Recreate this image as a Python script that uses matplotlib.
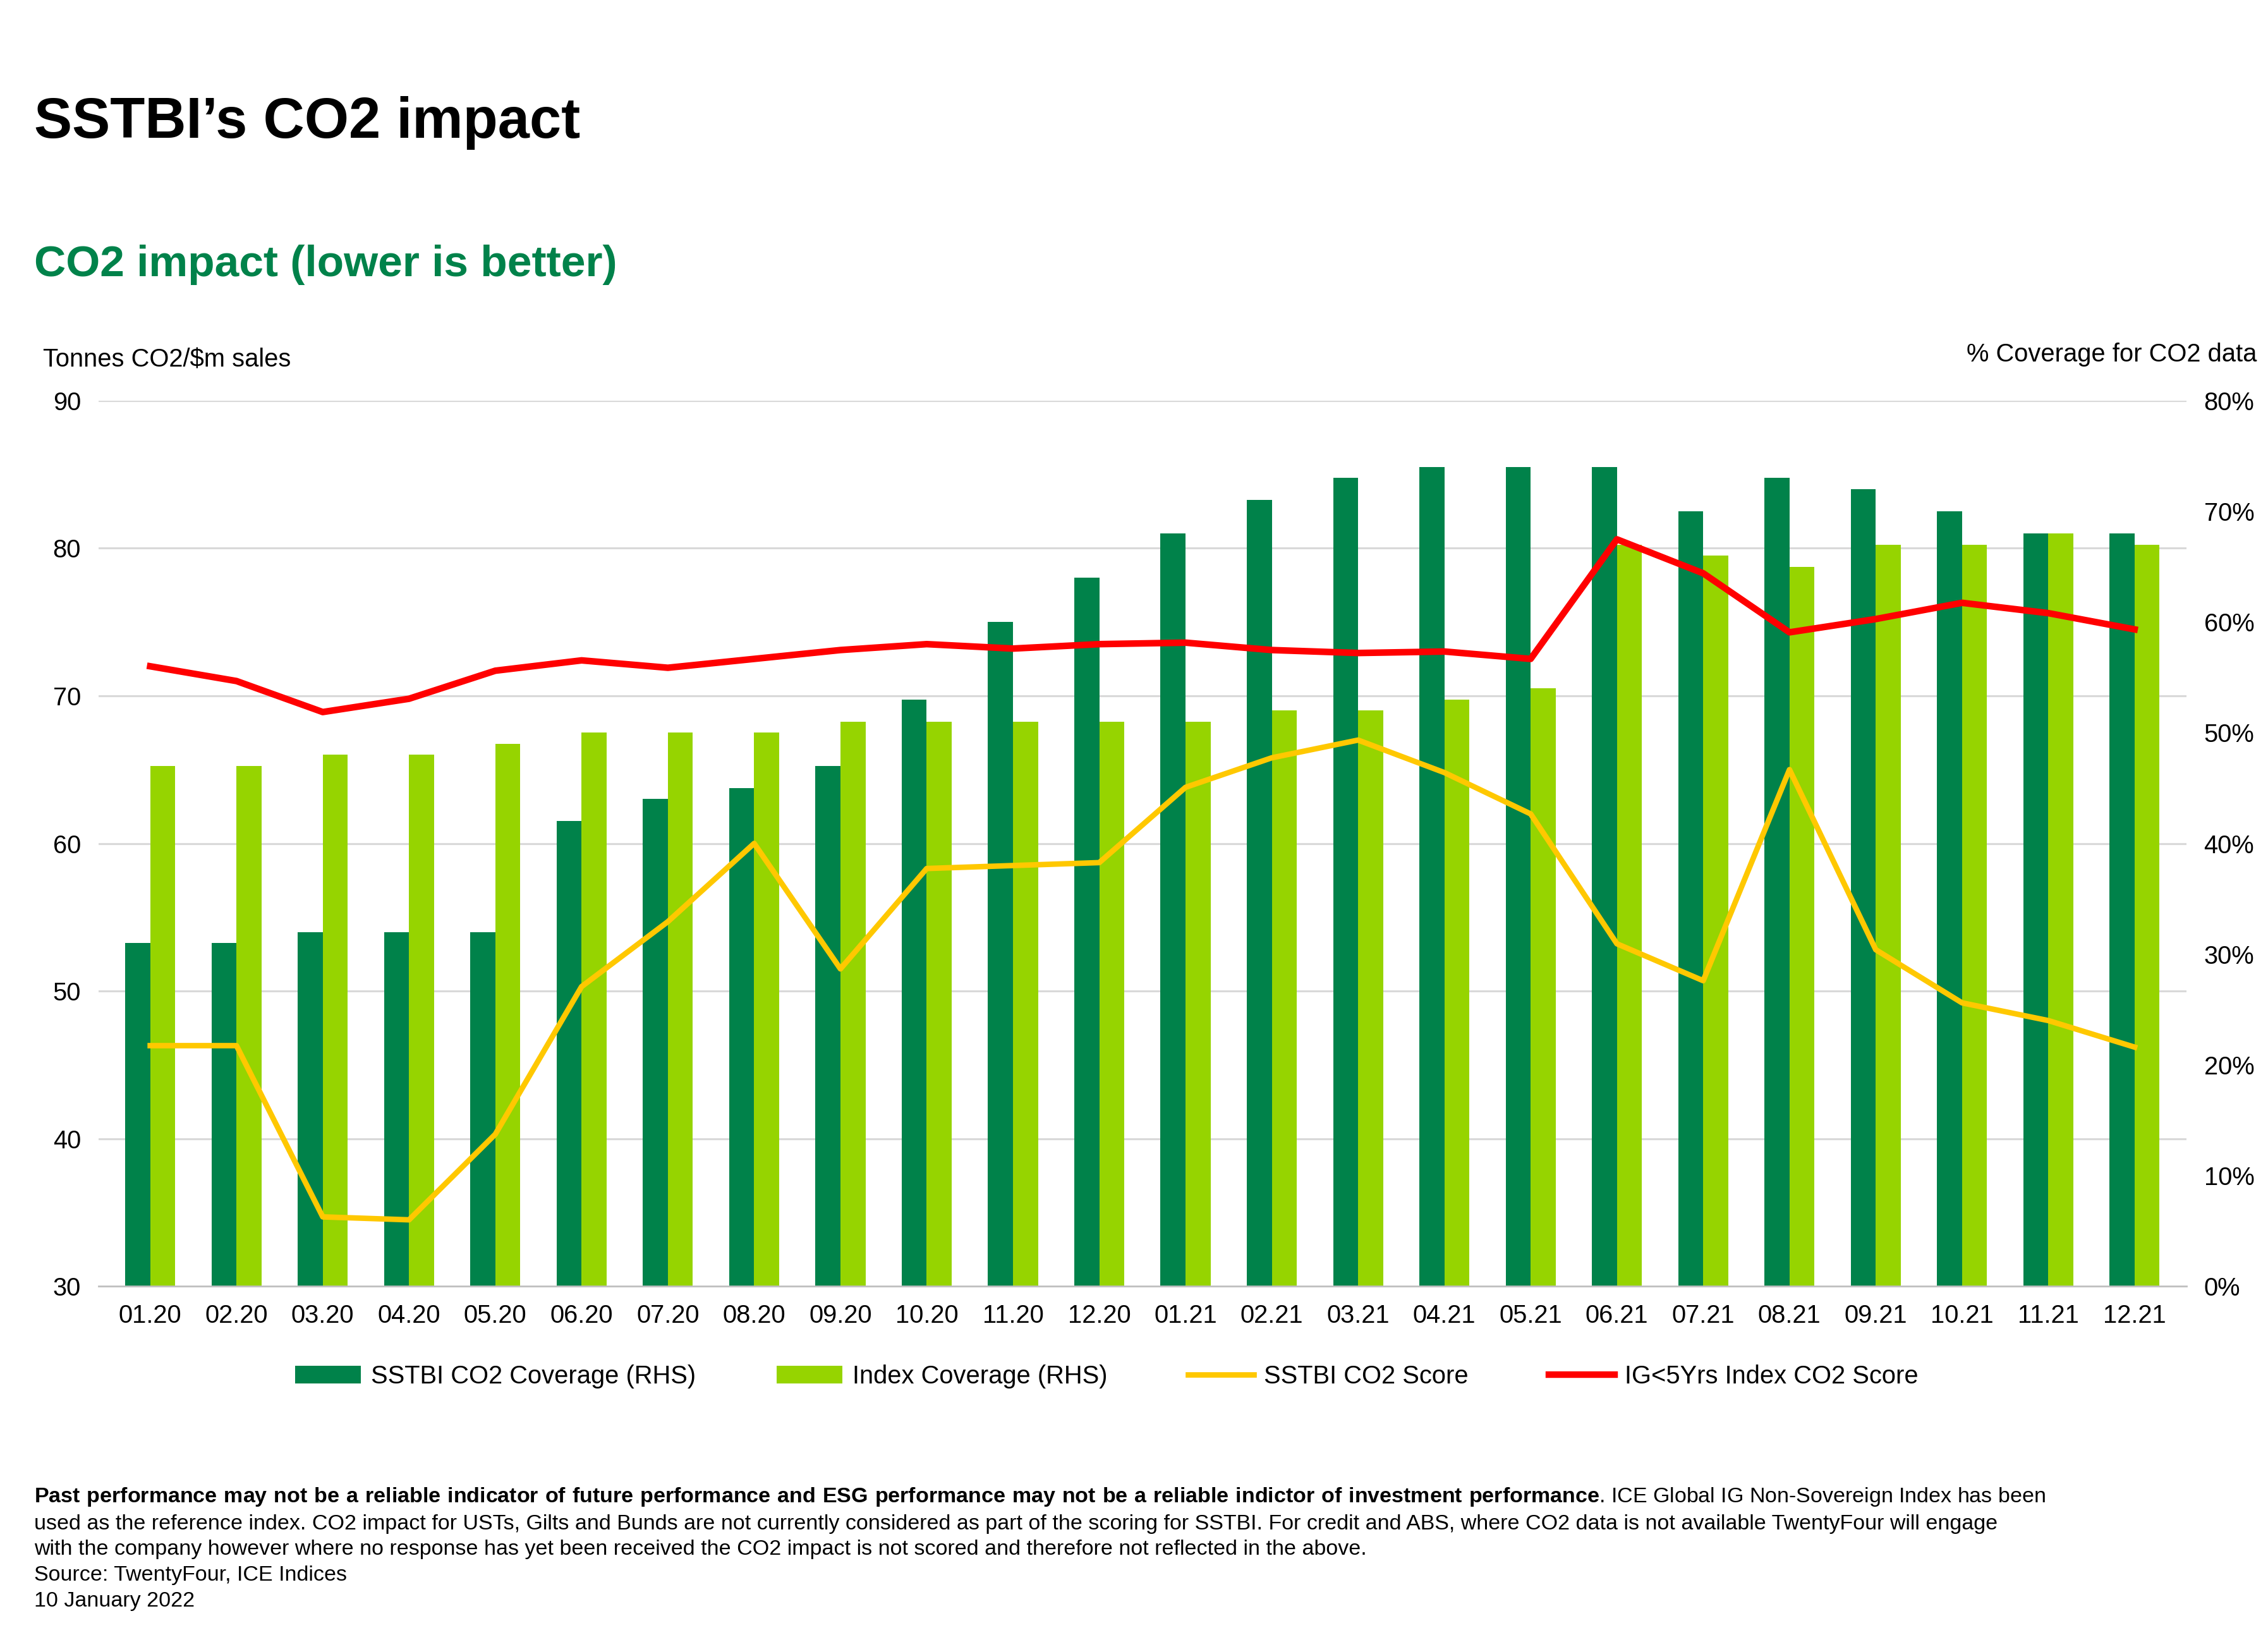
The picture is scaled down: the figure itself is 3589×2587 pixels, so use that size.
import matplotlib.pyplot as plt
import numpy as np

plt.rcParams["font.family"] = "Liberation Sans"
plt.rcParams["mathtext.fontset"] = "custom"
plt.rcParams["mathtext.rm"] = "Liberation Sans"
plt.rcParams["mathtext.bf"] = "Liberation Sans:bold"

# ---- data ----
months = ["01.20", "02.20", "03.20", "04.20", "05.20", "06.20", "07.20", "08.20",
          "09.20", "10.20", "11.20", "12.20", "01.21", "02.21", "03.21", "04.21",
          "05.21", "06.21", "07.21", "08.21", "09.21", "10.21", "11.21", "12.21"]
sstbi_coverage = [31, 31, 32, 32, 32, 42, 44, 45, 47, 53, 60, 64,
                  68, 71, 73, 74, 74, 74, 70, 73, 72, 70, 68, 68]
index_coverage = [47, 47, 48, 48, 49, 50, 50, 50, 51, 51, 51, 51,
                  51, 52, 52, 53, 54, 67, 66, 65, 67, 67, 68, 67]
sstbi_score = [46.3, 46.3, 34.7, 34.5, 40.3, 50.3, 54.7, 60.0, 51.5, 58.3, 58.5, 58.7,
               63.8, 65.8, 67.0, 64.8, 62.0, 53.2, 50.7, 65.0, 52.8, 49.2, 48.0, 46.2]
index_score = [72.0, 71.0, 68.9, 69.8, 71.7, 72.4, 71.9, 72.5, 73.1, 73.5, 73.2, 73.5,
               73.6, 73.1, 72.9, 73.0, 72.5, 80.6, 78.3, 74.3, 75.2, 76.3, 75.6, 74.5]

DARK = "#00824A"
LIGHT = "#96D400"
YELLOW = "#FFC800"
RED = "#FF0000"

fig = plt.figure(figsize=(14.356, 10.348), dpi=250)
ax = fig.add_axes([0.0434, 0.2133, 0.9206, 0.5417])
ax2 = ax.twinx()

x = np.arange(len(months))
w = 0.29
# gridlines matching left ticks
for v in range(40, 91, 10):
    ax2.axhline((v - 30) / 60 * 80, color="#D9D9D9", lw=0.9, zorder=0)
b1 = ax2.bar(x - w / 2, sstbi_coverage, w, color=DARK, zorder=2, label="SSTBI CO2 Coverage (RHS)")
b2 = ax2.bar(x + w / 2, index_coverage, w, color=LIGHT, zorder=2, label="Index Coverage (RHS)")
ax2.set_ylim(0, 80)
ax2.set_yticks(range(0, 81, 10))
ax2.set_yticklabels([f"{v}%" for v in range(0, 81, 10)])

l1, = ax.plot(x, sstbi_score, color=YELLOW, lw=2.5, label="SSTBI CO2 Score")
l2, = ax.plot(x, index_score, color=RED, lw=3, label="IG<5Yrs Index CO2 Score")
ax.set_ylim(30, 90)
ax.set_yticks(range(30, 91, 10))
ax.set_xlim(-0.6, len(months) - 0.4)
ax.set_xticks(x)
ax.set_xticklabels(months)
ax.set_zorder(ax2.get_zorder() + 1)
ax.patch.set_visible(False)

for a in (ax, ax2):
    for s in ("top", "left", "right"):
        a.spines[s].set_visible(False)
    a.tick_params(length=0, labelsize=11.5, pad=8)
ax.spines["bottom"].set_color("#BFBFBF")
ax2.spines["bottom"].set_visible(False)

fig.legend([b1, b2, l1, l2], [h.get_label() for h in (b1, b2, l1, l2)],
           loc="center", bbox_to_anchor=(0.488, 0.158), ncol=4, frameon=False,
           fontsize=11.5, handlelength=2.6, handletextpad=0.4, columnspacing=3.2)

fig.text(0.015, 0.925, "SSTBI\u2019s CO2 impact", fontsize=26, weight="bold", va="center")
fig.text(0.015, 0.838, "CO2 impact (lower is better)", fontsize=20, weight="bold",
         color=DARK, va="center")
fig.text(0.019, 0.78, "Tonnes CO2/$m sales", fontsize=11.5, va="center")
fig.text(0.995, 0.783, "% Coverage for CO2 data", fontsize=11.5, va="center", ha="right")

bold = ("Past performance may not be a reliable indicator of future performance and ESG "
        "performance may not be a reliable indictor of investment performance")
bold_tex = "$\\bf{" + bold.replace(" ", "\\ ") + "}$"
foot = (bold_tex + ". ICE Global IG Non-Sovereign Index has been\n"
        "used as the reference index. CO2 impact for USTs, Gilts and Bunds are not currently considered as part of the scoring for SSTBI. For credit and ABS, where CO2 data is not available TwentyFour will engage\n"
        "with the company however where no response has yet been received the CO2 impact is not scored and therefore not reflected in the above.\n"
        "Source: TwentyFour, ICE Indices\n"
        "10 January 2022")
fig.text(0.015, 0.053, foot, fontsize=9.8, va="center", linespacing=1.4)

fig.savefig("out.png")
